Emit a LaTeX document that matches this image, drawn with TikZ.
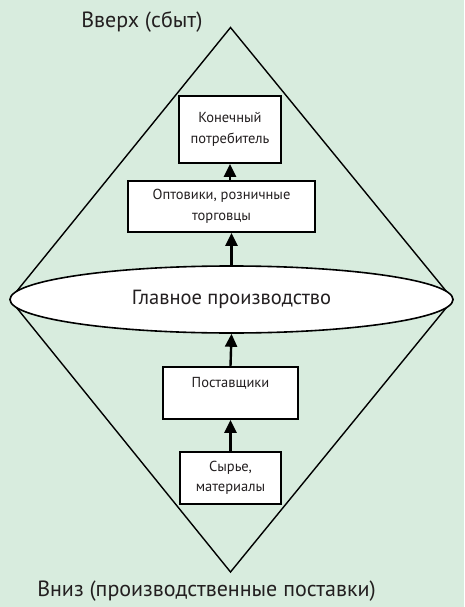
\documentclass[tikz,border=0pt]{standalone}
\usepackage{fontspec}
\setmainfont{PT Sans}
\usetikzlibrary{arrows.meta, shapes.geometric}
\definecolor{fundo}{RGB}{216, 236, 222}
\definecolor{texto}{RGB}{35, 31, 32}

\begin{document}
\begin{tikzpicture}[x=1pt, y=-1pt,
  caixa/.style={draw, line width=1.8pt, fill=white, inner sep=0pt, align=center,
    font=\fontsize{14.5}{20.5}\selectfont, text=texto},
  seta/.style={line width=2.4pt, -{Triangle[width=12pt, length=13pt]}},
  rotulo/.style={font=\fontsize{22}{26}\selectfont, text=texto}]
  % fundo
  \fill[fundo] (0,0) rectangle (464,607);
  \useasboundingbox (0,0) rectangle (464,607);
  % losango
  \coordinate (topo) at (230.5,27.5);
  \coordinate (dir) at (453,299.5);
  \coordinate (base) at (230.5,572);
  \coordinate (esq) at (10,299.5);
  \draw[line width=1.4pt] (topo) -- (dir) -- (base) -- (esq) -- cycle;
  % producao principal
  \node[ellipse, draw, fill=white, line width=1.6pt, minimum width=443pt,
    minimum height=67pt, inner sep=0pt, text=texto,
    font=\fontsize{20.5}{24}\selectfont] (prod) at (231.5,299.5)
    {Главное производство};
  % caixas
  \node[caixa, minimum width=102pt, minimum height=67pt] (cons) at (230,129.5)
    {Конечный\\потребитель};
  \node[caixa, minimum width=187pt, minimum height=51pt] (opt) at (221.5,206.5)
    {Оптовики, розничные\\торговцы};
  \node[caixa, minimum width=135pt, minimum height=52pt] (forn) at (230.5,393)
    {Поставщики\\~};
  \node[caixa, minimum width=101pt, minimum height=52pt] (mat) at (230.5,478)
    {Сырье,\\материалы};
  % setas
  \draw[seta] (mat.north) -- (forn.south);
  \draw[seta] (forn.north) -- (prod.south);
  \draw[seta] (prod.north) -- (prod.north |- opt.south);
  \draw[seta] (opt.north -| cons.south) -- (cons.south);
  % rotulos
  \node[rotulo] (cima) at (142,22) {Вверх (сбыт)};
  \node[rotulo] (baixo) at (206.5,591) {Вниз (производственные поставки)};
\end{tikzpicture}
\end{document}
